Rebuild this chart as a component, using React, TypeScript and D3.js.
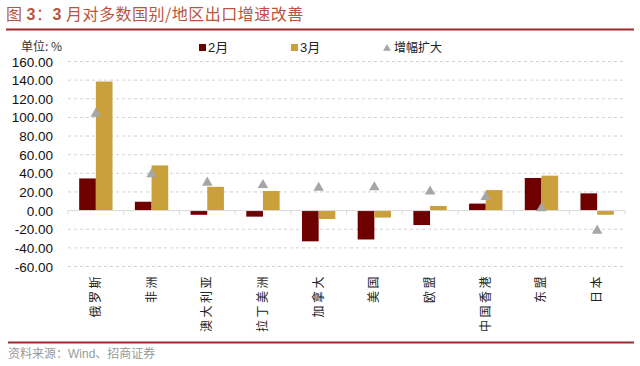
import React from "react";
import * as d3 from "d3";

const categories = ["俄罗斯", "非洲", "澳大利亚", "拉丁美洲", "加拿大", "美国", "欧盟", "中国香港", "东盟", "日本"];
const feb = [34.5, 9.5, -4.5, -6.5, -33, -31, -15.5, 7.5, 35, 18.5];
const mar = [138.5, 48.5, 25.5, 21, -9, -7.5, 5, 22, 37.5, -4.5];
const increase = [104, 39, 30, 27.5, 24.5, 25, 20.5, 14.5, 2.5, -21.5];
const yTicks = [-60, -40, -20, 0, 20, 40, 60, 80, 100, 120, 140, 160];
const seriesNames = ["2月", "3月"];

const W = 640, H = 366;
const C_FEB = "#6e0000";
const C_MAR = "#c9a03c";
const C_TRI = "#a6a6a6";

export default function App() {
  const x = d3.scaleBand<string>().domain(categories).range([68, 625]).paddingInner(0).paddingOuter(0);
  const x1 = d3.scaleBand<string>().domain(seriesNames).range([0, x.bandwidth()]).paddingInner(0).paddingOuter(0.67);
  const y = d3.scaleLinear().domain([-60, 160]).range([266.5, 61.5]);
  const tri = d3.symbol().type(d3.symbolTriangle).size(48)();
  const legTri = d3.symbol().type(d3.symbolTriangle).size(26)();
  const cjk = "'Noto Sans CJK SC', sans-serif";
  const latin = "'Liberation Sans', Arial, sans-serif";

  return (
    <svg width={W} height={H} style={{ position: "absolute", left: 0, top: 0, background: "#fff" }}>
      {/* title */}
      <text x={6} y={20} fontFamily={cjk} fontSize={16} fill="#b8553e" letterSpacing={0.5}>
        图 <tspan fontFamily={latin} fontWeight="bold">3</tspan>：<tspan fontFamily={latin} fontWeight="bold">3</tspan> 月对多数国别/地区出口增速改善
      </text>
      <line x1={6} x2={634} y1={29.5} y2={29.5} stroke="#a3282c" strokeWidth={2} />

      {/* unit */}
      <text x={21} y={51} fontFamily={cjk} fontSize={12} fill="#333">单位: %</text>

      {/* legend */}
      <rect x={199} y={44} width={7} height={7} fill={C_FEB} />
      <text x={208} y={52} fontFamily={latin} fontSize={13} fill="#222">2<tspan fontFamily={cjk}>月</tspan></text>
      <rect x={291} y={44} width={7} height={7} fill={C_MAR} />
      <text x={300} y={52} fontFamily={latin} fontSize={13} fill="#222">3<tspan fontFamily={cjk}>月</tspan></text>
      <path d={legTri} transform="translate(387,48.5)" fill={C_TRI} />
      <text x={394} y={52} fontFamily={cjk} fontSize={12} fill="#222">增幅扩大</text>

      {/* grid */}
      {yTicks.filter(t => t !== 0).map(t => (
        <line key={t} x1={68} x2={625} y1={y(t)} y2={y(t)} stroke="#d0d0d0" strokeDasharray="3,3" strokeWidth={1} />
      ))}
      {/* y labels */}
      {yTicks.map(t => (
        <text key={"l" + t} x={53} y={y(t) + 5} textAnchor="end" fontFamily={latin} fontSize={13.5} fill="#111">
          {t.toFixed(2)}
        </text>
      ))}

      {/* bars */}
      {categories.map((c, i) => {
        const x0 = x(c)!;
        return (
          <g key={c}>
            <rect x={x0 + x1("2月")!} width={x1.bandwidth()} y={y(Math.max(0, feb[i]))} height={Math.abs(y(feb[i]) - y(0))} fill={C_FEB} />
            <rect x={x0 + x1("3月")!} width={x1.bandwidth()} y={y(Math.max(0, mar[i]))} height={Math.abs(y(mar[i]) - y(0))} fill={C_MAR} />
          </g>
        );
      })}

      {/* zero axis */}
      <line x1={68} x2={625} y1={y(0)} y2={y(0)} stroke="#d9d9d9" strokeWidth={1} />
      {categories.concat([""]).map((c, i) => {
        const xx = 68 + i * x.step();
        return <line key={"t" + i} x1={xx} x2={xx} y1={y(0)} y2={y(0) + 4} stroke="#d9d9d9" />;
      })}

      {/* triangles */}
      {categories.map((c, i) => (
        <path key={"tr" + c} d={tri} transform={`translate(${x(c)! + x.bandwidth() / 2},${y(increase[i])})`} fill={C_TRI} />
      ))}

      {/* category labels */}
      {categories.map(c => (
        <text key={"c" + c} transform={`translate(${x(c)! + x.bandwidth() / 2 + 4},274) rotate(-90)`} textAnchor="end"
          fontFamily={cjk} fontSize={12} fill="#222" letterSpacing={2.5}>
          {c}
        </text>
      ))}

      {/* bottom line and source */}
      <line x1={8} x2={634} y1={342.5} y2={342.5} stroke="#a3282c" strokeWidth={2} />
      <text x={8} y={358} fontFamily={cjk} fontSize={12} fill="#9a9a9a">
        资料来源：<tspan fontFamily={latin}>Wind</tspan>、招商证券
      </text>
    </svg>
  );
}
